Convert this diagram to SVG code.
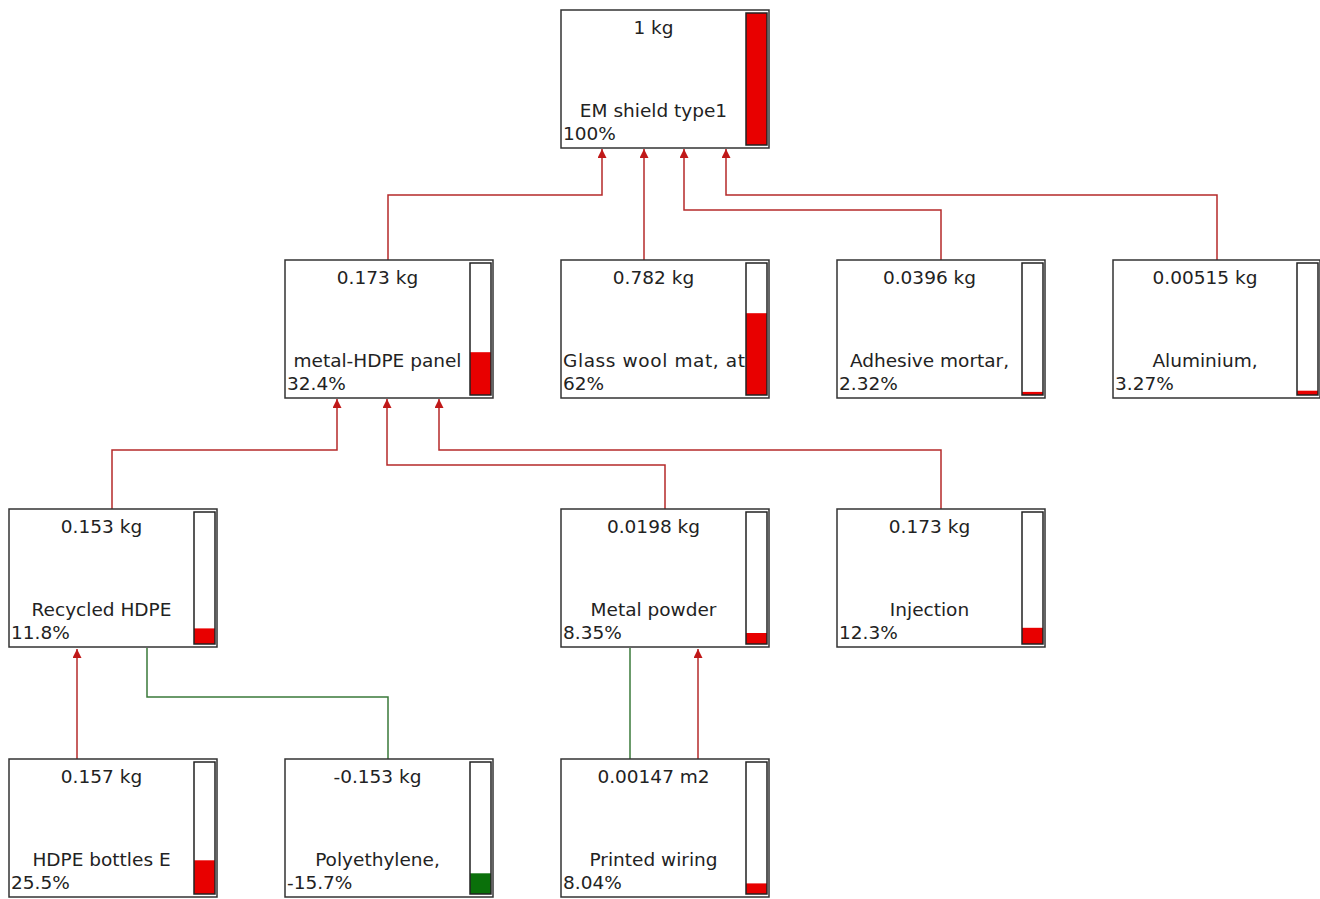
<svg xmlns="http://www.w3.org/2000/svg" width="1320" height="899" viewBox="0 0 1320 899">
<style>
.box{fill:#fff;stroke:#333;stroke-width:1.5}
.bar{fill:none;stroke:#222;stroke-width:1.5}
.r{fill:#e80000}
.g{fill:#0a700a}
text{font-family:"DejaVu Sans",Verdana,sans-serif;font-size:18.5px;fill:#222}
.c{text-anchor:middle}
.lr{fill:none;stroke:#b52a2a;stroke-width:1.5}
.lg{fill:none;stroke:#3a7a3a;stroke-width:1.5}
</style>
<defs>
<marker id="ah" viewBox="0 0 10 10" refX="10" refY="5" markerWidth="6" markerHeight="6" orient="auto" markerUnits="strokeWidth">
<path d="M0,0 L10,5 L0,10 z" fill="#c01818"/>
</marker>
</defs>
<rect width="1320" height="899" fill="#fff"/>
<g id="connectors">
<path class="lr" d="M388,260 V195 H602 V149" marker-end="url(#ah)"/>
<path class="lr" d="M644,260 V149" marker-end="url(#ah)"/>
<path class="lr" d="M941,260 V210 H684 V149" marker-end="url(#ah)"/>
<path class="lr" d="M1217,260 V195 H726 V149" marker-end="url(#ah)"/>
<path class="lr" d="M112,509 V450 H337 V399" marker-end="url(#ah)"/>
<path class="lr" d="M665,509 V465 H387 V399" marker-end="url(#ah)"/>
<path class="lr" d="M941,509 V450 H439 V399" marker-end="url(#ah)"/>
<path class="lr" d="M77,759 V649" marker-end="url(#ah)"/>
<path class="lg" d="M388,759 V697 H147 V648"/>
<path class="lg" d="M630,759 V648"/>
<path class="lr" d="M698,759 V649" marker-end="url(#ah)"/>
</g>
<g id="n-em">
<rect class="box" x="561" y="10" width="208" height="138"/>
<rect class="r" x="746" y="13" width="21" height="132"/>
<rect class="bar" x="746" y="13" width="21" height="132"/>
<text class="c" x="653.5" y="34">1 kg</text>
<text class="c" x="653.5" y="117">EM shield type1</text>
<text x="563" y="140">100%</text>
</g>
<g id="n-panel">
<rect class="box" x="285" y="260" width="208" height="138"/>
<rect class="r" x="470" y="352.2" width="21" height="42.8"/>
<rect class="bar" x="470" y="263" width="21" height="132"/>
<text class="c" x="377.5" y="284">0.173 kg</text>
<text class="c" x="377.5" y="367">metal-HDPE panel</text>
<text x="287" y="390">32.4%</text>
</g>
<g id="n-glass">
<rect class="box" x="561" y="260" width="208" height="138"/>
<rect class="r" x="746" y="313.2" width="21" height="81.8"/>
<rect class="bar" x="746" y="263" width="21" height="132"/>
<text class="c" x="653.5" y="284">0.782 kg</text>
<text x="563" y="367" textLength="182" lengthAdjust="spacing">Glass wool mat, at</text>
<text x="563" y="390">62%</text>
</g>
<g id="n-adhesive">
<rect class="box" x="837" y="260" width="208" height="138"/>
<rect class="r" x="1022" y="391.9" width="21" height="3.1"/>
<rect class="bar" x="1022" y="263" width="21" height="132"/>
<text class="c" x="929.5" y="284">0.0396 kg</text>
<text class="c" x="929.5" y="367">Adhesive mortar,</text>
<text x="839" y="390">2.32%</text>
</g>
<g id="n-alu">
<rect class="box" x="1113" y="260" width="207" height="138"/>
<rect class="r" x="1297" y="390.7" width="21" height="4.3"/>
<rect class="bar" x="1297" y="263" width="21" height="132"/>
<text class="c" x="1205" y="284">0.00515 kg</text>
<text class="c" x="1205" y="367">Aluminium,</text>
<text x="1115" y="390">3.27%</text>
</g>
<g id="n-recycled">
<rect class="box" x="9" y="509" width="208" height="138"/>
<rect class="r" x="194" y="628.4" width="21" height="15.6"/>
<rect class="bar" x="194" y="512" width="21" height="132"/>
<text class="c" x="101.5" y="533">0.153 kg</text>
<text class="c" x="101.5" y="616">Recycled HDPE</text>
<text x="11" y="639">11.8%</text>
</g>
<g id="n-metal">
<rect class="box" x="561" y="509" width="208" height="138"/>
<rect class="r" x="746" y="633" width="21" height="11"/>
<rect class="bar" x="746" y="512" width="21" height="132"/>
<text class="c" x="653.5" y="533">0.0198 kg</text>
<text class="c" x="653.5" y="616">Metal powder</text>
<text x="563" y="639">8.35%</text>
</g>
<g id="n-injection">
<rect class="box" x="837" y="509" width="208" height="138"/>
<rect class="r" x="1022" y="627.8" width="21" height="16.2"/>
<rect class="bar" x="1022" y="512" width="21" height="132"/>
<text class="c" x="929.5" y="533">0.173 kg</text>
<text class="c" x="929.5" y="616">Injection</text>
<text x="839" y="639">12.3%</text>
</g>
<g id="n-bottles">
<rect class="box" x="9" y="759" width="208" height="138"/>
<rect class="r" x="194" y="860.3" width="21" height="33.7"/>
<rect class="bar" x="194" y="762" width="21" height="132"/>
<text class="c" x="101.5" y="783">0.157 kg</text>
<text class="c" x="101.5" y="866">HDPE bottles E</text>
<text x="11" y="889">25.5%</text>
</g>
<g id="n-poly">
<rect class="box" x="285" y="759" width="208" height="138"/>
<rect class="g" x="470" y="873.3" width="21" height="20.7"/>
<rect class="bar" x="470" y="762" width="21" height="132"/>
<text class="c" x="377.5" y="783">-0.153 kg</text>
<text class="c" x="377.5" y="866">Polyethylene,</text>
<text x="287" y="889">-15.7%</text>
</g>
<g id="n-wiring">
<rect class="box" x="561" y="759" width="208" height="138"/>
<rect class="r" x="746" y="883.4" width="21" height="10.6"/>
<rect class="bar" x="746" y="762" width="21" height="132"/>
<text class="c" x="653.5" y="783">0.00147 m2</text>
<text class="c" x="653.5" y="866">Printed wiring</text>
<text x="563" y="889">8.04%</text>
</g>
</svg>
